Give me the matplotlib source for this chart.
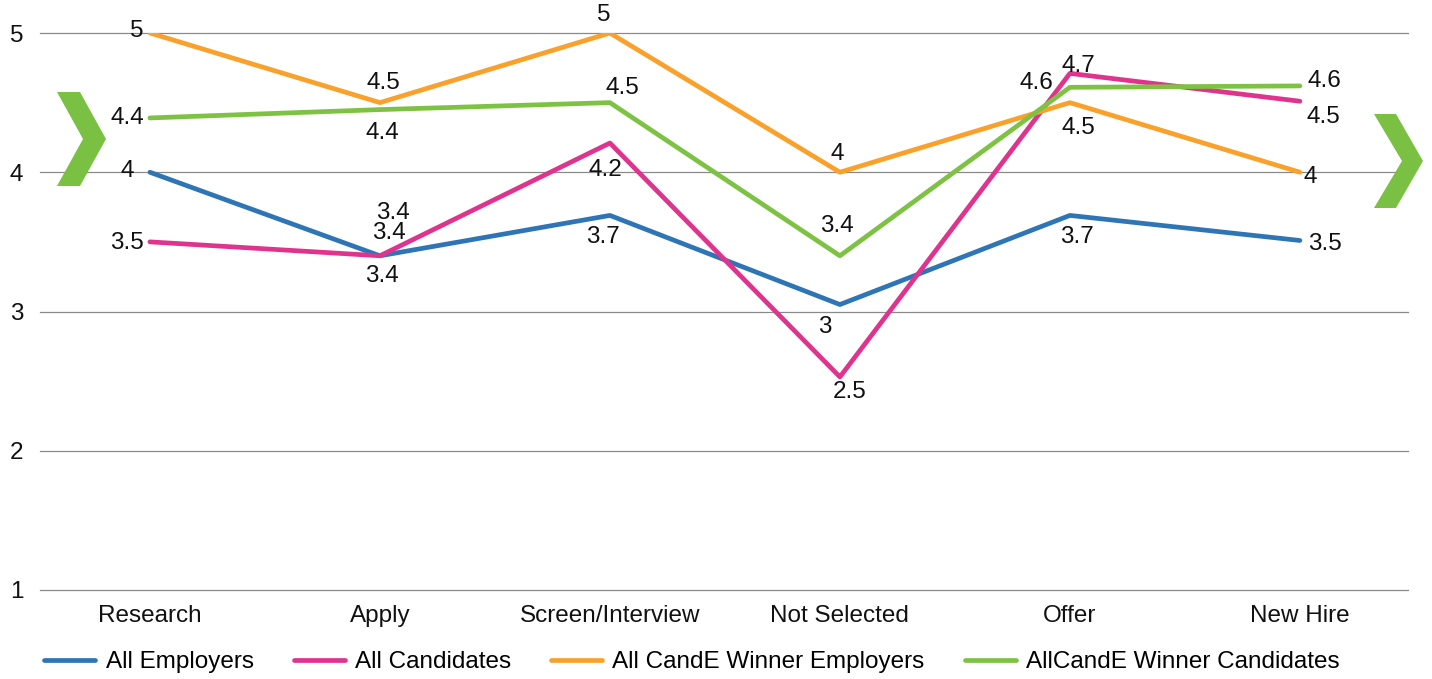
import matplotlib
matplotlib.use("Agg")
import matplotlib.pyplot as plt
from matplotlib.patches import Polygon

plt.rcParams['font.family'] = ['Liberation Sans', 'DejaVu Sans']

categories = ["Research", "Apply", "Screen/Interview", "Not Selected", "Offer", "New Hire"]
series_names = ["All Employers", "All Candidates", "All CandE Winner Employers", "AllCandE Winner Candidates"]
all_employers = [4.0, 3.4, 3.69, 3.05, 3.69, 3.51]
all_candidates = [3.5, 3.4, 4.21, 2.53, 4.71, 4.51]
winner_employers = [5.0, 4.5, 5.0, 4.0, 4.5, 4.0]
winner_candidates = [4.39, 4.45, 4.5, 3.4, 4.61, 4.62]

emp_labels = ["4", "3.4", "3.7", "3", "3.7", "3.5"]
cand_labels = ["3.5", "3.4", "4.2", "2.5", "4.7", "4.5"]
wemp_labels = ["5", "4.5", "5", "4", "4.5", "4"]
wcand_labels = ["4.4", "4.4", "4.5", "3.4", "4.6", "4.6"]

colors = ["#2E75B6", "#E0338E", "#F9A12A", "#7DC242"]

# label offsets in pixels (dx right, dy down)
emp_off = [(-23, -1), (2, 20), (-7, 22), (-15, 22), (7, 22), (25, 4)]
cand_off = [(-23, 1), (9, -23), (-5, 27), (10, 15), (8, -7), (23, 16)]
wemp_off = [(-13, -2), (3, -20), (-6, -18), (-3, -18), (8, 25), (10, 5)]
wcand_off = [(-23, 0), (2, 23), (12, -15), (-3, -30), (-34, -4), (24, -5)]

W, H = 1432, 679
fig = plt.figure(figsize=(W / 100, H / 100), dpi=100)
ax = fig.add_axes([40 / W, 1 - 590 / H, 1368 / W, 557 / H])

x = list(range(len(categories)))
data = [all_employers, all_candidates, winner_employers, winner_candidates]
labels = [emp_labels, cand_labels, wemp_labels, wcand_labels]
offs = [emp_off, cand_off, wemp_off, wcand_off]
FS = 17.5

for vals, name, col in zip(data, series_names, colors):
    ax.plot(x, vals, color=col, linewidth=3.4, label=name, solid_capstyle='round', zorder=3)

for vals, labs, off in zip(data, labels, offs):
    for xi, v, lab, (dx, dy) in zip(x, vals, labs, off):
        ax.annotate(lab, (xi, v), xytext=(dx, -dy), textcoords='offset pixels',
                    ha='center', va='center', fontsize=FS, color='#111111', zorder=4)

# extra duplicate label at Apply
ax.annotate("3.4", (x[1], all_employers[1]), xytext=(13, 43), textcoords='offset pixels',
            ha='center', va='center', fontsize=FS, color='#111111', zorder=4)

ax.set_xlim(-0.478, 5.47)
ax.set_ylim(1, 5)
ax.set_yticks([1, 2, 3, 4, 5])
ax.set_yticklabels(["1", "2", "3", "4", "5"])
ax.set_xticks(x)
ax.set_xticklabels(categories)
ax.tick_params(axis='both', length=0, labelsize=FS, colors='#111111')
ax.tick_params(axis='y', pad=12)
ax.tick_params(axis='x', pad=10.5)
ax.yaxis.grid(True, color='#8a8a8a', linewidth=0.9)
for gl in ax.get_ygridlines():
    gl.set_clip_on(False)
ax.set_axisbelow(True)
for s in ax.spines.values():
    s.set_visible(False)

fig.legend(loc='center', bbox_to_anchor=(692 / W, 1 - 662 / H), ncol=4, frameon=False,
           fontsize=FS, handlelength=2.1, handletextpad=0.42, columnspacing=1.65,
           borderaxespad=0, borderpad=0)

def chevron(pts):
    fpts = [(px / W, 1 - py / H) for px, py in pts]
    fig.patches.append(Polygon(fpts, closed=True, transform=fig.transFigure,
                               facecolor='#7AC143', edgecolor='none'))

chevron([(57, 92), (80, 92), (106, 139), (80, 186), (57, 186), (83, 139)])
chevron([(1374, 114), (1396, 114), (1423, 161), (1396, 208), (1374, 208), (1402, 161)])

fig.savefig("out.png", dpi=100)
